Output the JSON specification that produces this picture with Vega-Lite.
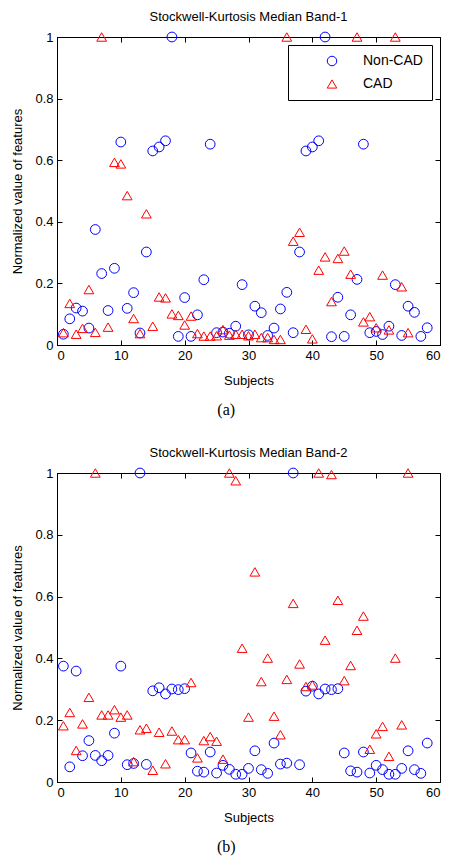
{
  "$schema": "https://vega.github.io/schema/vega-lite/v6.json",
  "padding": {"left": 11, "top": 10, "right": 8, "bottom": 5},
  "config": {
    "font": "Liberation Sans",
    "view": {"stroke": "black", "strokeWidth": 1},
    "axis": {"grid": false, "domainColor": "black", "tickColor": "black", "labelColor": "black", "titleColor": "black", "labelFontSize": 13, "titleFontSize": 13, "titleFontWeight": "normal", "tickSize": -5, "labelPadding": 9},
    "title": {"fontSize": 13, "fontWeight": "normal", "color": "black", "offset": 6},
    "concat": {"spacing": 28}
  },
  "datasets": {
    "p1": [
      {"s":1,"v":0.035,"g":"Non-CAD"},{"s":2,"v":0.085,"g":"Non-CAD"},{"s":3,"v":0.12,"g":"Non-CAD"},{"s":4,"v":0.11,"g":"Non-CAD"},{"s":5,"v":0.055,"g":"Non-CAD"},{"s":6,"v":0.375,"g":"Non-CAD"},{"s":7,"v":0.232,"g":"Non-CAD"},{"s":8,"v":0.112,"g":"Non-CAD"},{"s":9,"v":0.249,"g":"Non-CAD"},{"s":10,"v":0.659,"g":"Non-CAD"},
      {"s":11,"v":0.119,"g":"Non-CAD"},{"s":12,"v":0.17,"g":"Non-CAD"},{"s":13,"v":0.039,"g":"Non-CAD"},{"s":14,"v":0.302,"g":"Non-CAD"},{"s":15,"v":0.63,"g":"Non-CAD"},{"s":16,"v":0.643,"g":"Non-CAD"},{"s":17,"v":0.663,"g":"Non-CAD"},{"s":18,"v":1.0,"g":"Non-CAD"},{"s":19,"v":0.028,"g":"Non-CAD"},{"s":20,"v":0.154,"g":"Non-CAD"},
      {"s":21,"v":0.028,"g":"Non-CAD"},{"s":22,"v":0.098,"g":"Non-CAD"},{"s":23,"v":0.212,"g":"Non-CAD"},{"s":24,"v":0.652,"g":"Non-CAD"},{"s":25,"v":0.04,"g":"Non-CAD"},{"s":26,"v":0.042,"g":"Non-CAD"},{"s":27,"v":0.038,"g":"Non-CAD"},{"s":28,"v":0.061,"g":"Non-CAD"},{"s":29,"v":0.196,"g":"Non-CAD"},{"s":30,"v":0.033,"g":"Non-CAD"},
      {"s":31,"v":0.126,"g":"Non-CAD"},{"s":32,"v":0.105,"g":"Non-CAD"},{"s":33,"v":0.031,"g":"Non-CAD"},{"s":34,"v":0.055,"g":"Non-CAD"},{"s":35,"v":0.117,"g":"Non-CAD"},{"s":36,"v":0.171,"g":"Non-CAD"},{"s":37,"v":0.04,"g":"Non-CAD"},{"s":38,"v":0.302,"g":"Non-CAD"},{"s":39,"v":0.63,"g":"Non-CAD"},{"s":40,"v":0.643,"g":"Non-CAD"},
      {"s":41,"v":0.663,"g":"Non-CAD"},{"s":42,"v":1.0,"g":"Non-CAD"},{"s":43,"v":0.027,"g":"Non-CAD"},{"s":44,"v":0.155,"g":"Non-CAD"},{"s":45,"v":0.028,"g":"Non-CAD"},{"s":46,"v":0.098,"g":"Non-CAD"},{"s":47,"v":0.213,"g":"Non-CAD"},{"s":48,"v":0.652,"g":"Non-CAD"},{"s":49,"v":0.04,"g":"Non-CAD"},{"s":50,"v":0.044,"g":"Non-CAD"},
      {"s":51,"v":0.034,"g":"Non-CAD"},{"s":52,"v":0.061,"g":"Non-CAD"},{"s":53,"v":0.196,"g":"Non-CAD"},{"s":54,"v":0.031,"g":"Non-CAD"},{"s":55,"v":0.126,"g":"Non-CAD"},{"s":56,"v":0.106,"g":"Non-CAD"},{"s":57,"v":0.028,"g":"Non-CAD"},{"s":58,"v":0.056,"g":"Non-CAD"},
      {"s":1,"v":0.04,"g":"CAD"},{"s":2,"v":0.135,"g":"CAD"},{"s":3,"v":0.035,"g":"CAD"},{"s":4,"v":0.054,"g":"CAD"},{"s":5,"v":0.18,"g":"CAD"},{"s":6,"v":0.041,"g":"CAD"},{"s":7,"v":1.0,"g":"CAD"},{"s":8,"v":0.058,"g":"CAD"},{"s":9,"v":0.593,"g":"CAD"},{"s":10,"v":0.588,"g":"CAD"},
      {"s":11,"v":0.485,"g":"CAD"},{"s":12,"v":0.086,"g":"CAD"},{"s":13,"v":0.037,"g":"CAD"},{"s":14,"v":0.426,"g":"CAD"},{"s":15,"v":0.061,"g":"CAD"},{"s":16,"v":0.156,"g":"CAD"},{"s":17,"v":0.153,"g":"CAD"},{"s":18,"v":0.101,"g":"CAD"},{"s":19,"v":0.096,"g":"CAD"},{"s":20,"v":0.065,"g":"CAD"},
      {"s":21,"v":0.094,"g":"CAD"},{"s":22,"v":0.037,"g":"CAD"},{"s":23,"v":0.029,"g":"CAD"},{"s":24,"v":0.029,"g":"CAD"},{"s":25,"v":0.03,"g":"CAD"},{"s":26,"v":0.05,"g":"CAD"},{"s":27,"v":0.032,"g":"CAD"},{"s":28,"v":0.035,"g":"CAD"},{"s":29,"v":0.035,"g":"CAD"},{"s":30,"v":0.03,"g":"CAD"},
      {"s":31,"v":0.035,"g":"CAD"},{"s":32,"v":0.024,"g":"CAD"},{"s":33,"v":0.024,"g":"CAD"},{"s":34,"v":0.018,"g":"CAD"},{"s":35,"v":0.018,"g":"CAD"},{"s":36,"v":1.0,"g":"CAD"},{"s":37,"v":0.337,"g":"CAD"},{"s":38,"v":0.366,"g":"CAD"},{"s":39,"v":0.051,"g":"CAD"},{"s":40,"v":0.02,"g":"CAD"},
      {"s":41,"v":0.243,"g":"CAD"},{"s":42,"v":0.286,"g":"CAD"},{"s":43,"v":0.141,"g":"CAD"},{"s":44,"v":0.281,"g":"CAD"},{"s":45,"v":0.305,"g":"CAD"},{"s":46,"v":0.23,"g":"CAD"},{"s":47,"v":1.0,"g":"CAD"},{"s":48,"v":0.075,"g":"CAD"},{"s":49,"v":0.092,"g":"CAD"},{"s":50,"v":0.056,"g":"CAD"},
      {"s":51,"v":0.227,"g":"CAD"},{"s":52,"v":0.049,"g":"CAD"},{"s":53,"v":1.0,"g":"CAD"},{"s":54,"v":0.189,"g":"CAD"},{"s":55,"v":0.04,"g":"CAD"}
    ],
    "p2": [
      {"s":1,"v":0.375,"g":"Non-CAD"},{"s":2,"v":0.049,"g":"Non-CAD"},{"s":3,"v":0.359,"g":"Non-CAD"},{"s":4,"v":0.085,"g":"Non-CAD"},{"s":5,"v":0.134,"g":"Non-CAD"},{"s":6,"v":0.086,"g":"Non-CAD"},{"s":7,"v":0.069,"g":"Non-CAD"},{"s":8,"v":0.086,"g":"Non-CAD"},{"s":9,"v":0.158,"g":"Non-CAD"},{"s":10,"v":0.375,"g":"Non-CAD"},
      {"s":11,"v":0.056,"g":"Non-CAD"},{"s":12,"v":0.06,"g":"Non-CAD"},{"s":13,"v":1.0,"g":"Non-CAD"},{"s":14,"v":0.057,"g":"Non-CAD"},{"s":15,"v":0.295,"g":"Non-CAD"},{"s":16,"v":0.305,"g":"Non-CAD"},{"s":17,"v":0.285,"g":"Non-CAD"},{"s":18,"v":0.301,"g":"Non-CAD"},{"s":19,"v":0.299,"g":"Non-CAD"},{"s":20,"v":0.302,"g":"Non-CAD"},
      {"s":21,"v":0.094,"g":"Non-CAD"},{"s":22,"v":0.035,"g":"Non-CAD"},{"s":23,"v":0.032,"g":"Non-CAD"},{"s":24,"v":0.097,"g":"Non-CAD"},{"s":25,"v":0.029,"g":"Non-CAD"},{"s":26,"v":0.054,"g":"Non-CAD"},{"s":27,"v":0.041,"g":"Non-CAD"},{"s":28,"v":0.025,"g":"Non-CAD"},{"s":29,"v":0.025,"g":"Non-CAD"},{"s":30,"v":0.044,"g":"Non-CAD"},
      {"s":31,"v":0.101,"g":"Non-CAD"},{"s":32,"v":0.04,"g":"Non-CAD"},{"s":33,"v":0.028,"g":"Non-CAD"},{"s":34,"v":0.126,"g":"Non-CAD"},{"s":35,"v":0.058,"g":"Non-CAD"},{"s":36,"v":0.061,"g":"Non-CAD"},{"s":37,"v":1.0,"g":"Non-CAD"},{"s":38,"v":0.056,"g":"Non-CAD"},{"s":39,"v":0.294,"g":"Non-CAD"},{"s":40,"v":0.31,"g":"Non-CAD"},
      {"s":41,"v":0.285,"g":"Non-CAD"},{"s":42,"v":0.301,"g":"Non-CAD"},{"s":43,"v":0.299,"g":"Non-CAD"},{"s":44,"v":0.302,"g":"Non-CAD"},{"s":45,"v":0.094,"g":"Non-CAD"},{"s":46,"v":0.036,"g":"Non-CAD"},{"s":47,"v":0.032,"g":"Non-CAD"},{"s":48,"v":0.097,"g":"Non-CAD"},{"s":49,"v":0.029,"g":"Non-CAD"},{"s":50,"v":0.054,"g":"Non-CAD"},
      {"s":51,"v":0.04,"g":"Non-CAD"},{"s":52,"v":0.025,"g":"Non-CAD"},{"s":53,"v":0.025,"g":"Non-CAD"},{"s":54,"v":0.044,"g":"Non-CAD"},{"s":55,"v":0.101,"g":"Non-CAD"},{"s":56,"v":0.04,"g":"Non-CAD"},{"s":57,"v":0.028,"g":"Non-CAD"},{"s":58,"v":0.126,"g":"Non-CAD"},
      {"s":1,"v":0.182,"g":"CAD"},{"s":2,"v":0.225,"g":"CAD"},{"s":3,"v":0.102,"g":"CAD"},{"s":4,"v":0.188,"g":"CAD"},{"s":5,"v":0.274,"g":"CAD"},{"s":6,"v":1.0,"g":"CAD"},{"s":7,"v":0.217,"g":"CAD"},{"s":8,"v":0.217,"g":"CAD"},{"s":9,"v":0.234,"g":"CAD"},{"s":10,"v":0.21,"g":"CAD"},
      {"s":11,"v":0.217,"g":"CAD"},{"s":12,"v":0.066,"g":"CAD"},{"s":13,"v":0.169,"g":"CAD"},{"s":14,"v":0.174,"g":"CAD"},{"s":15,"v":0.038,"g":"CAD"},{"s":16,"v":0.161,"g":"CAD"},{"s":17,"v":0.059,"g":"CAD"},{"s":18,"v":0.165,"g":"CAD"},{"s":19,"v":0.137,"g":"CAD"},{"s":20,"v":0.137,"g":"CAD"},
      {"s":21,"v":0.322,"g":"CAD"},{"s":22,"v":0.078,"g":"CAD"},{"s":23,"v":0.134,"g":"CAD"},{"s":24,"v":0.147,"g":"CAD"},{"s":25,"v":0.132,"g":"CAD"},{"s":26,"v":0.074,"g":"CAD"},{"s":27,"v":1.0,"g":"CAD"},{"s":28,"v":0.975,"g":"CAD"},{"s":29,"v":0.433,"g":"CAD"},{"s":30,"v":0.21,"g":"CAD"},
      {"s":31,"v":0.68,"g":"CAD"},{"s":32,"v":0.325,"g":"CAD"},{"s":33,"v":0.401,"g":"CAD"},{"s":34,"v":0.213,"g":"CAD"},{"s":35,"v":0.153,"g":"CAD"},{"s":36,"v":0.332,"g":"CAD"},{"s":37,"v":0.578,"g":"CAD"},{"s":38,"v":0.382,"g":"CAD"},{"s":39,"v":0.309,"g":"CAD"},{"s":40,"v":0.314,"g":"CAD"},
      {"s":41,"v":1.0,"g":"CAD"},{"s":42,"v":0.459,"g":"CAD"},{"s":43,"v":0.995,"g":"CAD"},{"s":44,"v":0.588,"g":"CAD"},{"s":45,"v":0.328,"g":"CAD"},{"s":46,"v":0.377,"g":"CAD"},{"s":47,"v":0.491,"g":"CAD"},{"s":48,"v":0.537,"g":"CAD"},{"s":49,"v":0.106,"g":"CAD"},{"s":50,"v":0.156,"g":"CAD"},
      {"s":51,"v":0.18,"g":"CAD"},{"s":52,"v":0.083,"g":"CAD"},{"s":53,"v":0.401,"g":"CAD"},{"s":54,"v":0.185,"g":"CAD"},{"s":55,"v":1.0,"g":"CAD"}
    ]
  },
  "vconcat": [
    {
      "title": {"text": "(a)", "orient": "bottom", "anchor": "middle", "font": "Liberation Serif", "fontSize": 16, "offset": 14},
      "vconcat": [
        {
          "title": "Stockwell-Kurtosis Median Band-1",
          "width": 383,
          "height": 308,
          "data": {"name": "p1"},
          "resolve": {"axis": {"x": "independent", "y": "independent"}},
          "layer": [
            {
              "mark": {"type": "point", "filled": false, "strokeWidth": 1, "opacity": 1},
              "encoding": {
                "x": {"field": "s", "type": "quantitative", "scale": {"domain": [0, 60], "nice": false}, "axis": {"orient": "bottom", "values": [0,10,20,30,40,50,60], "title": "Subjects", "titlePadding": 12}},
                "y": {"field": "v", "type": "quantitative", "scale": {"domain": [0, 1], "nice": false}, "axis": {"orient": "left", "values": [0,0.2,0.4,0.6,0.8,1], "format": ".1~f", "title": "Normalized value of features", "titlePadding": 10}},
                "color": {"field": "g", "type": "nominal", "scale": {"domain": ["Non-CAD", "CAD"], "range": ["#0000ff", "#ff0000"]},
                  "legend": {"title": null, "orient": "top-right", "offset": 8, "strokeColor": "black", "fillColor": "white", "padding": 9, "labelFontSize": 14, "labelOffset": 24, "symbolOffset": 28, "rowPadding": 9, "symbolStrokeWidth": 1, "symbolSize": 90}},
                "shape": {"field": "g", "type": "nominal", "scale": {"domain": ["Non-CAD", "CAD"], "range": ["circle", "triangle-up"]}},
                "size": {"value": 95}
              }
            },
            {
              "mark": {"type": "point", "opacity": 0},
              "encoding": {
                "x": {"field": "s", "type": "quantitative", "axis": {"orient": "top", "values": [0,10,20,30,40,50,60], "labels": false, "title": null, "domain": false}},
                "y": {"field": "v", "type": "quantitative", "axis": {"orient": "right", "values": [0,0.2,0.4,0.6,0.8,1], "labels": false, "title": null, "domain": false}}
              }
            }
          ]
        }
      ]
    },
    {
      "title": {"text": "(b)", "orient": "bottom", "anchor": "middle", "font": "Liberation Serif", "fontSize": 16, "offset": 14},
      "vconcat": [
        {
          "title": "Stockwell-Kurtosis Median Band-2",
          "width": 383,
          "height": 309,
          "data": {"name": "p2"},
          "resolve": {"axis": {"x": "independent", "y": "independent"}},
          "layer": [
            {
              "mark": {"type": "point", "filled": false, "strokeWidth": 1, "opacity": 1},
              "encoding": {
                "x": {"field": "s", "type": "quantitative", "scale": {"domain": [0, 60], "nice": false}, "axis": {"orient": "bottom", "values": [0,10,20,30,40,50,60], "title": "Subjects", "titlePadding": 12}},
                "y": {"field": "v", "type": "quantitative", "scale": {"domain": [0, 1], "nice": false}, "axis": {"orient": "left", "values": [0,0.2,0.4,0.6,0.8,1], "format": ".1~f", "title": "Normalized value of features", "titlePadding": 10}},
                "color": {"field": "g", "type": "nominal", "scale": {"domain": ["Non-CAD", "CAD"], "range": ["#0000ff", "#ff0000"]},
                  "legend": {"title": null, "orient": "top-right", "offset": 8, "strokeColor": "black", "fillColor": "white", "padding": 9, "labelFontSize": 14, "labelOffset": 24, "symbolOffset": 28, "rowPadding": 9, "symbolStrokeWidth": 1, "symbolSize": 90}},
                "shape": {"field": "g", "type": "nominal", "scale": {"domain": ["Non-CAD", "CAD"], "range": ["circle", "triangle-up"]}},
                "size": {"value": 95}
              }
            },
            {
              "mark": {"type": "point", "opacity": 0},
              "encoding": {
                "x": {"field": "s", "type": "quantitative", "axis": {"orient": "top", "values": [0,10,20,30,40,50,60], "labels": false, "title": null, "domain": false}},
                "y": {"field": "v", "type": "quantitative", "axis": {"orient": "right", "values": [0,0.2,0.4,0.6,0.8,1], "labels": false, "title": null, "domain": false}}
              }
            }
          ]
        }
      ]
    }
  ]
}
